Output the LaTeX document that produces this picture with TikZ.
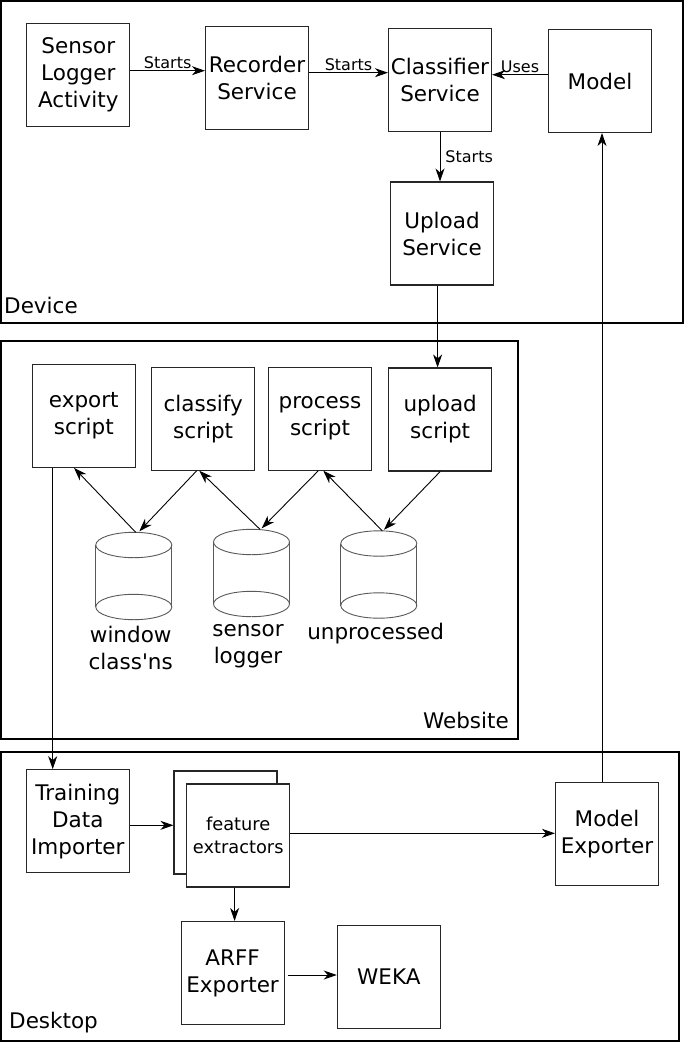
\documentclass[tikz,border=0pt]{standalone}
\usepackage{fontspec}
\setmainfont{DejaVu Sans}
\usetikzlibrary{arrows.meta}
\begin{document}
\begin{tikzpicture}[x=1pt,y=-1pt,
  frame/.style={draw=black,line width=1.4pt},
  box/.style={draw=black!85,line width=1.1pt,minimum width=103pt,minimum height=103pt,inner sep=0pt,align=center,font=\fontsize{21.5}{27}\selectfont},
  arr/.style={line width=0.9pt,-{Stealth[length=13pt,width=9pt,inset=4pt]}},
  lbl/.style={font=\fontsize{16}{19}\selectfont,inner sep=2pt},
  big/.style={font=\fontsize{21.5}{27}\selectfont,align=center,inner sep=0pt},
  cyl/.style={draw=black!65,line width=0.9pt},
  dbcyl/.pic={
    \draw[cyl] (0,0) ellipse [x radius=38pt,y radius=12.7pt];
    \draw[cyl] (0,62) ellipse [x radius=38pt,y radius=12.7pt];
    \draw[cyl] (-38,0) -- (-38,62) (38,0) -- (38,62);
    \coordinate (-top) at (0,-12.7);
  }]
\useasboundingbox (0,0) rectangle (684,1042);
\fill[white] (0,0) rectangle (684,1042);

% frames
\draw[frame] (1,1) rectangle (683,323);
\draw[frame] (1,341) rectangle (518,739);
\draw[frame] (1,752) rectangle (679,1041);
\node[big,anchor=base west] (devl) at (4,313) {Device};
\node[big,anchor=base east] (webl) at (509,728) {Website};
\node[big,anchor=base west] (dskl) at (9,1028) {Desktop};

% device
\node[box] (sla) at (78.3,75.2) {Sensor\\Logger\\Activity};
\node[box] (rec) at (257,78) {Recorder\\Service};
\node[box] (cls) at (440,79.7) {Classifier\\Service};
\node[box] (mdl) at (600,81) {Model};
\node[box] (ups) at (442,233.5) {Upload\\Service};

% website
\node[box] (exp) at (83.8,415.8) {export\\script};
\node[box] (cfy) at (203.2,418.7) {classify\\script};
\node[box] (prc) at (320,418.7) {process\\script};
\node[box] (upl) at (440.2,419.5) {upload\\script};

\pic (wc) at (133.8,545) {dbcyl};
\pic (sc) at (251.5,542) {dbcyl};
\pic (uc) at (378.8,543.5) {dbcyl};
\node[big] (wcl) at (130.7,648.3) {window\\class\textquotesingle ns};
\node[big] (scl) at (248,646.3) {sensor\\logger};
\node[big] (ucl) at (375.7,633.3) {unprocessed};

% desktop
\node[box] (tdi) at (77.8,821.2) {Training\\Data\\Importer};
\node[box,fill=white] (feb) at (225.5,822.5) {};
\node[box,fill=white,font=\fontsize{17.8}{23}\selectfont] (fe) at (238.2,835.5) {feature\\extractors};
\node[box] (mex) at (607,834.2) {Model\\Exporter};
\node[box] (arff) at (232.6,973) {ARFF\\Exporter};
\node[box] (weka) at (388.8,976.8) {WEKA};

% device arrows
\coordinate (a1) at ([yshift=4.5pt]sla.east);
\draw[arr] (a1) -- node[lbl,above] {Starts} (a1 -| rec.west);
\coordinate (a2) at ([yshift=5.3pt]rec.east);
\draw[arr] (a2) -- node[lbl,above] {Starts} (a2 -| cls.west);
\coordinate (a3) at ([yshift=6.3pt]mdl.west);
\draw[arr] (a3) -- node[lbl,above] {Uses} (a3 -| cls.east);
\draw[arr] (cls.south) -- node[lbl,right,xshift=3pt] {Starts} (cls.south |- ups.north);

% cross-frame arrows
\coordinate (a4) at ([xshift=-4.4pt]ups.south);
\draw[arr] (a4) -- (a4 |- upl.north);
\coordinate (a5) at ([xshift=-5pt]mex.north);
\draw[arr] (a5) -- (a5 |- mdl.south);
\coordinate (a6) at ([xshift=-31.1pt]exp.south);
\draw[arr] (a6) -- (a6 |- tdi.north);

% website arrows
\draw[arr] ([xshift=1.9pt]wc-top) -- ([xshift=-9.8pt]exp.south);
\draw[arr] ([xshift=-6.5pt]cfy.south) -- ([xshift=5.5pt,yshift=1pt]wc-top);
\draw[arr] ([xshift=8.5pt]sc-top) -- ([xshift=-3.9pt]cfy.south);
\draw[arr] ([xshift=-1.7pt]prc.south) -- ([xshift=10.2pt,yshift=1pt]sc-top);
\draw[arr] ([xshift=3.5pt]uc-top) -- ([xshift=3.3pt]prc.south);
\draw[arr] (upl.south) -- ([xshift=5.2pt,yshift=1pt]uc-top);

% desktop arrows
\coordinate (a7) at ([yshift=-4.1pt]tdi.east);
\draw[arr] (a7) -- (a7 -| feb.west);
\coordinate (a8) at ([yshift=2.2pt]fe.east);
\draw[arr] (a8) -- (a8 -| mex.west);
\coordinate (a9) at ([xshift=-3.6pt]fe.south);
\draw[arr] (a9) -- (a9 |- arff.north);
\coordinate (a10) at ([yshift=-2pt,xshift=3pt]arff.east);
\draw[arr] (a10) -- (a10 -| weka.west);
\end{tikzpicture}
\end{document}
